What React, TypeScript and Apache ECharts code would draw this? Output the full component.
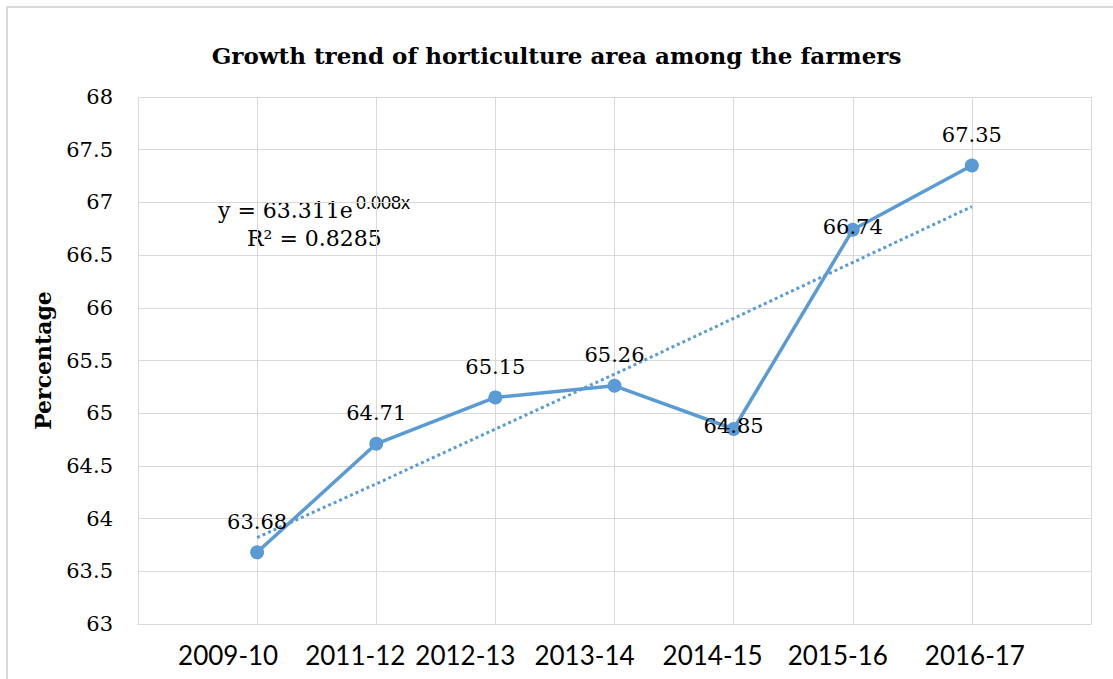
import React, { useEffect, useRef } from "react";
import * as echarts from "echarts";

const categories = ["2009-10", "2011-12", "2012-13", "2013-14", "2014-15", "2015-16", "2016-17"];
const percentages = [63.68, 64.71, 65.15, 65.26, 64.85, 66.74, 67.35];
const trendValues = [63.82, 64.33, 64.85, 65.37, 65.9, 66.43, 66.96];
const yTicks = { min: 63, max: 68, step: 0.5 };
const equationText = "y = 63.311e";
const equationExp = "0.008x";
const r2Text = "R² = 0.8285";
const centeredLabelIdx = [4, 5];
// horizontal shift (px) of each category label relative to its grid line, as in the reference
const labelShift = [-29, -21, -30, -30, -21, -15, 3];

const BLUE = "#5B9BD5";
const GRID = "#d9d9d9";
const SERIF = "'DejaVu Serif', serif";

export default function App() {
  const ref = useRef<HTMLDivElement>(null);
  useEffect(() => {
    document.body.style.margin = "0";
    const chart = echarts.init(ref.current!, null, { renderer: "svg" });
    const lineData = percentages.map((v, i) => {
      const item: any = { value: [i + 1, v] };
      if (centeredLabelIdx.includes(i)) {
        item.label = { position: "inside", offset: [0, -3] };
      }
      return item;
    });
    const trendData = trendValues.map((v, i) => [i + 1, v]);
    const rich: any = {};
    labelShift.forEach((s, i) => {
      const pad = Math.abs(s) * 2;
      rich["c" + i] = {
        fontFamily: "Lato, sans-serif",
        fontSize: 26,
        color: "#000",
        padding: s < 0 ? [0, pad, 0, 0] : [0, 0, 0, pad],
      };
    });
    chart.setOption({
      animation: false,
      backgroundColor: "#fff",
      title: {
        text: "Growth trend of horticulture area among the farmers",
        left: "center",
        top: 39,
        textStyle: { fontFamily: SERIF, fontWeight: "bold", fontSize: 23, color: "#000" },
      },
      grid: { left: 138, right: 22, top: 97, bottom: 55, containLabel: false },
      xAxis: {
        type: "value",
        min: 0,
        max: categories.length + 1,
        interval: 1,
        axisLine: { show: true, lineStyle: { color: GRID, width: 1 } },
        axisTick: { show: false },
        splitLine: { show: true, lineStyle: { color: GRID, width: 1 } },
        axisLabel: {
          margin: 18,
          fontFamily: "Lato, sans-serif",
          fontSize: 26,
          color: "#000",
          showMinLabel: true,
          showMaxLabel: true,
          rich,
          formatter: (v: number) => {
            const i = Math.round(v) - 1;
            return categories[i] ? `{c${i}|${categories[i]}}` : "";
          },
        },
      },
      yAxis: {
        type: "value",
        min: yTicks.min,
        max: yTicks.max,
        interval: yTicks.step,
        name: "Percentage",
        nameLocation: "middle",
        nameGap: 84,
        nameTextStyle: { fontFamily: SERIF, fontWeight: "bold", fontSize: 22, color: "#000" },
        axisLine: { show: false },
        axisTick: { show: false },
        splitLine: { show: true, lineStyle: { color: GRID, width: 1 } },
        axisLabel: { margin: 25, fontFamily: SERIF, fontSize: 21, color: "#000" },
      },
      series: [
        {
          type: "line",
          data: trendData,
          symbol: "none",
          lineStyle: { color: BLUE, width: 3, type: [3, 3] },
          z: 2,
          silent: true,
        },
        {
          type: "line",
          data: lineData,
          symbol: "circle",
          symbolSize: 14,
          itemStyle: { color: BLUE },
          lineStyle: { color: BLUE, width: 3.5 },
          z: 3,
          label: {
            show: true,
            position: "top",
            distance: 13,
            fontFamily: SERIF,
            fontSize: 21,
            color: "#000",
            formatter: (p: any) => p.value[1].toFixed(2),
          },
        },
      ],
      graphic: [
        {
          type: "rect",
          shape: { x: 7, y: 7, width: 1130, height: 700 },
          style: { fill: "none", stroke: GRID, lineWidth: 2 },
          silent: true,
        },
        {
          type: "text",
          x: 218,
          y: 210,
          style: { text: equationText, fontFamily: SERIF, fontSize: 22, fill: "#000", verticalAlign: "middle" },
        },
        {
          type: "text",
          x: 356,
          y: 203,
          style: { text: equationExp, fontFamily: "'Liberation Sans', sans-serif", fontSize: 18, fill: "#000", verticalAlign: "middle" },
        },
        {
          type: "text",
          x: 247,
          y: 238,
          style: { text: r2Text, fontFamily: SERIF, fontSize: 22, fill: "#000", verticalAlign: "middle" },
        },
      ],
    });
    return () => chart.dispose();
  }, []);
  return <div ref={ref} style={{ width: 1113, height: 679 }} />;
}
